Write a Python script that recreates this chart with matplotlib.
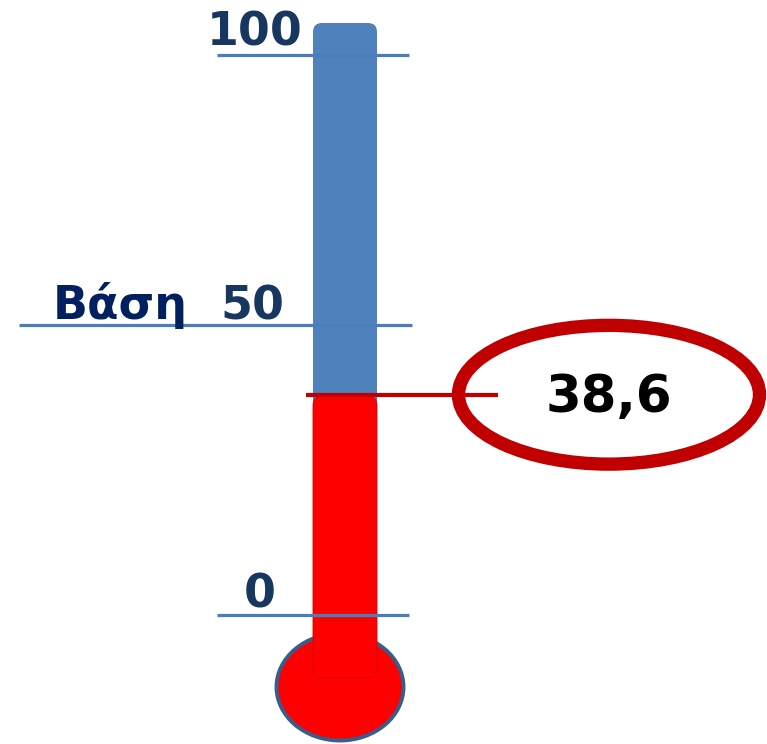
import numpy as np
import matplotlib.pyplot as plt
from matplotlib.patches import FancyBboxPatch, Ellipse
from matplotlib.transforms import offset_copy

# data
tick_values = [100, 50, 0]
tick_labels = ['100', '50', '0']
base_value = 50
base_label = 'Βάση'
reading = 38.6
reading_label = '38,6'

# piecewise scale so the 0/50/100 marks land where they sit in the picture
def fwd(v):
    v = np.asarray(v, dtype=float)
    return np.where(v < 50, -(615 - 5.8 * v), -(325 - 5.4 * (v - 50)))

def inv(p):
    p = -np.asarray(p, dtype=float)
    return np.where(p > 325, (615 - p) / 5.8, 50 + (325 - p) / 5.4)

plt.rcParams['font.family'] = ['DejaVu Sans']

fig = plt.figure(figsize=(7.67, 7.44), dpi=100)
ax = fig.add_axes([0, 0, 1, 1])
ax.set_yscale('function', functions=(fwd, inv))
ax.set_xlim(0, 767)
ax.set_ylim(float(inv(-744)), float(inv(0)))
ax.axis('off')

blue = '#4F81BD'
red = '#FF0000'
dark_red = '#C00000'

tube_x0, tube_w = 313, 64
tube_bottom = float(inv(-678))
tube_top = float(inv(-23))

# bulb
bulb = Ellipse((340, float(inv(-687))), 127, 107 / 5.8, facecolor=red,
               edgecolor='#385D8A', lw=2.8, zorder=1)
ax.add_patch(bulb)

# blue tube (full scale)
tube = FancyBboxPatch((tube_x0, tube_bottom), tube_w, tube_top - tube_bottom,
                      boxstyle='round,pad=0,rounding_size=9',
                      mutation_aspect=1 / 5.4, facecolor=blue,
                      edgecolor='none', zorder=2)
ax.add_patch(tube)

# red fill up to the reading
fill = FancyBboxPatch((tube_x0, tube_bottom), tube_w, reading - 0.9 - tube_bottom,
                      boxstyle='round,pad=0,rounding_size=9',
                      mutation_aspect=1 / 5.8, facecolor=red,
                      edgecolor='#D80000', lw=0.6, zorder=3)
ax.add_patch(fill)

# scale marks
line_spans = {100: (217, 409), 50: (19, 412), 0: (217, 409)}
label_right = {100: 303, 50: 284, 0: 276}
label_off = {100: 10, 50: 6, 0: 8}
for v, lab in zip(tick_values, tick_labels):
    x0, x1 = line_spans[v]
    ax.plot([x0, x1], [v, v], color='#4A7EBB', lw=2.3, zorder=4,
            solid_capstyle='butt')
    ax.annotate(lab, xy=(label_right[v], v), xytext=(0, label_off[v]),
                textcoords='offset pixels', ha='right', va='baseline',
                fontsize=33, fontweight='bold', color='#17375E', zorder=5)

ax.annotate(base_label, xy=(53, base_value), xytext=(0, 6),
            textcoords='offset pixels', ha='left', va='baseline',
            fontsize=33, fontweight='bold', color='#002060', zorder=5)

# reading marker + callout (nudged a few pixels down, as in the picture)
shift = offset_copy(ax.transData, fig=fig, y=-3.5, units='dots')
ring = Ellipse((609, reading), 301, 139 / 5.8, facecolor='white',
               edgecolor=dark_red, lw=9.6, zorder=4, transform=shift)
ax.add_patch(ring)
ax.plot([306, 498], [reading, reading], color=dark_red, lw=3, zorder=6,
        solid_capstyle='butt', transform=shift)
ax.annotate(reading_label, xy=(609, reading), xytext=(0, -21),
            textcoords='offset pixels', ha='center', va='baseline',
            fontsize=37, fontweight='bold', color='black', zorder=7)

fig.savefig('out.png', dpi=100)
